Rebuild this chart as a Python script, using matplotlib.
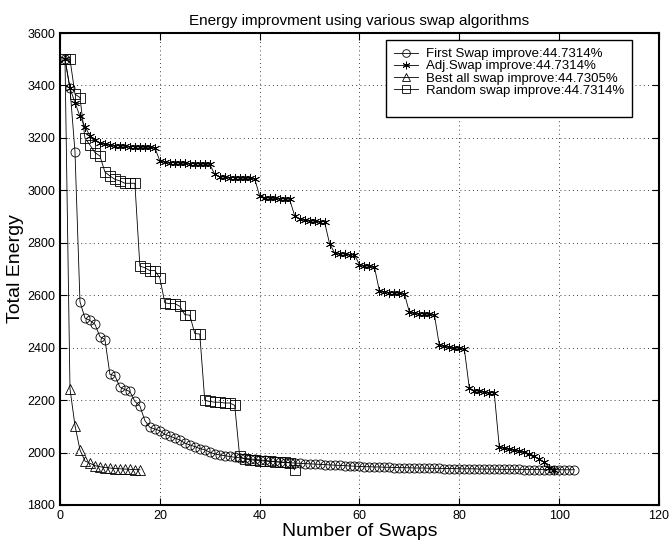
import matplotlib.pyplot as plt
from matplotlib.lines import Line2D

plt.rcParams['font.family'] = ['Liberation Sans', 'DejaVu Sans']

# First swap (circles), swaps 1..103
first_swap = [3500, 3389, 3147, 2575, 2513, 2504, 2489, 2442, 2431, 2298,
              2293, 2250, 2240, 2233, 2195, 2178, 2122, 2096, 2090, 2083,
              2069, 2063, 2055, 2048, 2036, 2029, 2023, 2015, 2011, 2001,
              1995, 1991, 1988, 1985, 1982, 1980, 1978, 1976, 1974, 1972,
              1970, 1968, 1966, 1964, 1962, 1961, 1960, 1959, 1958, 1957,
              1956, 1955, 1954, 1953, 1952, 1951, 1950, 1949, 1948, 1947,
              1946, 1946, 1945, 1945, 1944, 1944, 1943, 1943, 1942, 1942,
              1941, 1941, 1941, 1940, 1940, 1940, 1939, 1939, 1939, 1938,
              1938, 1938, 1938, 1937, 1937, 1937, 1937, 1936, 1936, 1936,
              1936, 1936, 1935, 1935, 1935, 1935, 1935, 1935, 1934.5, 1934.5,
              1934.4, 1934.4, 1934.4]

# Adjacent swap (asterisks), swaps 1..99
adj_swap = [3500, 3389, 3335, 3282, 3243, 3208, 3192, 3182, 3176, 3173,
            3171, 3169, 3168, 3167, 3166, 3165, 3164, 3164, 3163, 3112,
            3108, 3106, 3105, 3104, 3103, 3102, 3101, 3100, 3100, 3099,
            3061, 3052, 3050, 3049, 3048, 3047, 3046, 3046, 3045, 2978,
            2972, 2970, 2969, 2968, 2967, 2966, 2904, 2890, 2886, 2884,
            2882, 2881, 2880, 2797, 2762, 2759, 2757, 2755, 2753, 2717,
            2712, 2710, 2707, 2615, 2612, 2610, 2609, 2607, 2606, 2535,
            2532, 2530, 2528, 2527, 2526, 2409, 2405, 2402, 2400, 2398,
            2396, 2246, 2236, 2233, 2231, 2229, 2227, 2023, 2017, 2013,
            2010, 2006, 2001, 1994, 1985, 1976, 1963, 1943, 1934.4]

# Best of all swaps (triangles), swaps 1..16
best_swap = [3500, 2243, 2103, 2010, 1968, 1959, 1950, 1946, 1943, 1941,
             1939, 1938, 1937, 1936, 1935, 1934.4]

# Random swap (squares), swaps 1..47
random_swap = [3500, 3500, 3367, 3354, 3199, 3173, 3144, 3131, 3070, 3055,
               3042, 3036, 3027, 3027, 3027, 2711, 2705, 2694, 2694, 2666,
               2571, 2568, 2568, 2558, 2526, 2524, 2454, 2452, 2199, 2195,
               2192, 2192, 2189, 2189, 2180, 1985, 1975, 1973, 1971, 1969,
               1968, 1966, 1965, 1964, 1963, 1962, 1934.4]

labels = ['First Swap improve:44.7314%', 'Adj.Swap improve:44.7314%',
          'Best all swap improve:44.7305%', 'Random swap improve:44.7314%']

fig = plt.figure(figsize=(6.69, 5.45), dpi=100)
ax = fig.add_axes([0.0897, 0.0734, 0.8953, 0.866])

series = [first_swap, adj_swap, best_swap, random_swap]
markers = ['o', (6, 2, 0), '^', 's']
for data, m, lab in zip(series, markers, labels):
    x = range(1, len(data) + 1)
    ax.plot(x, data, color='black', linewidth=0.6, marker=m, markersize=6.5,
            markerfacecolor='none', markeredgecolor='black',
            markeredgewidth=0.6, label=lab)

ax.set_xlim(0, 120)
ax.set_ylim(1800, 3600)
ax.set_xticks(range(0, 121, 20))
ax.set_yticks(range(1800, 3601, 200))
ax.grid(True, linestyle=(0, (1, 4)), color='black', linewidth=0.6)
ax.tick_params(direction='in', top=True, right=True, labelsize=9, length=5)
for s in ax.spines.values():
    s.set_linewidth(1.5)

ax.set_title('Energy improvment using various swap algorithms', fontsize=11)
ax.set_xlabel('Number of Swaps', fontsize=14, labelpad=1)
ax.set_ylabel('Total Energy', fontsize=14, labelpad=2)

# MATLAB-style legend leaves empty room under the entries
handles, labs = ax.get_legend_handles_labels()
handles.append(Line2D([], [], linestyle='none'))
labs.append(' ')
leg = ax.legend(handles, labs, loc='upper right', bbox_to_anchor=(0.955, 0.985),
                borderaxespad=0, fontsize=9.5, handlelength=1.8,
                handletextpad=0.6, labelspacing=0.0, borderpad=0.6,
                markerscale=0.85, fancybox=False, framealpha=1,
                edgecolor='black')
leg.get_frame().set_linewidth(1.0)

fig.savefig('out.png', dpi=100)
